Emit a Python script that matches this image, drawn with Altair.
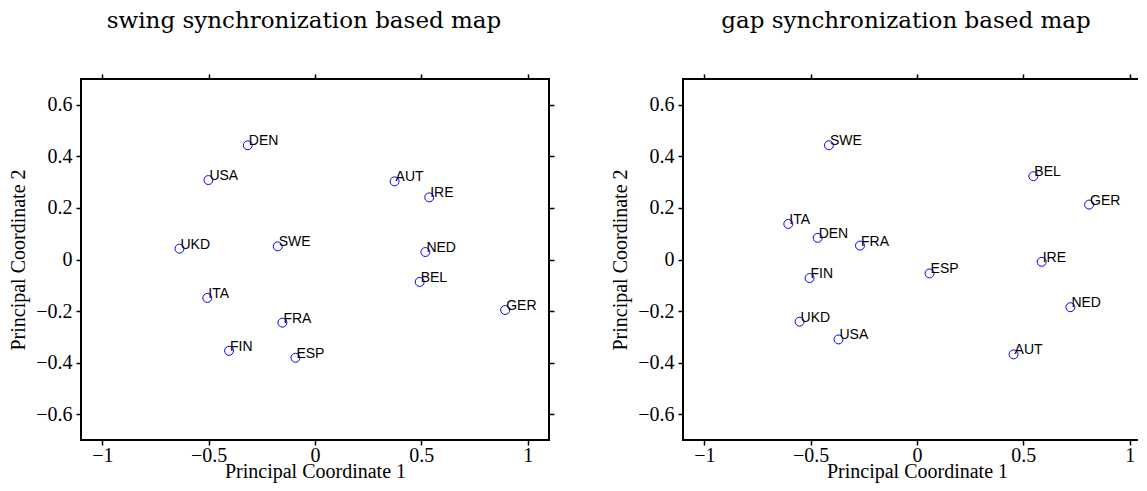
import altair as alt
import pandas as pd

countries = ["AUT", "BEL", "DEN", "ESP", "FIN", "FRA", "GER", "IRE", "ITA", "NED", "SWE", "UKD", "USA"]

swing_x = [0.374, 0.492, -0.316, -0.092, -0.404, -0.153, 0.894, 0.537, -0.506, 0.519, -0.175, -0.637, -0.501]
swing_y = [0.303, -0.087, 0.443, -0.381, -0.354, -0.245, -0.196, 0.241, -0.149, 0.029, 0.051, 0.042, 0.308]

gap_x = [0.454, 0.547, -0.467, 0.059, -0.505, -0.268, 0.809, 0.586, -0.605, 0.721, -0.414, -0.552, -0.369]
gap_y = [-0.368, 0.323, 0.084, -0.054, -0.072, 0.054, 0.213, -0.009, 0.138, -0.185, 0.443, -0.241, -0.310]

x_ticks = [-1, -0.5, 0, 0.5, 1]
y_ticks = [-0.6, -0.4, -0.2, 0, 0.2, 0.4, 0.6]

titles = ["swing synchronization based map", "gap synchronization based map"]

SERIF = "Liberation Serif"


def panel(xs, ys, title):
    df = pd.DataFrame({"country": countries, "x": xs, "y": ys})
    xscale = alt.Scale(domain=[-1.1, 1.1], nice=False, zero=False)
    yscale = alt.Scale(domain=[-0.7, 0.7], nice=False, zero=False)
    base = alt.Chart(df)
    pts = base.mark_point(shape="circle", filled=False, size=80, color="#0000ff", strokeWidth=1, opacity=1).encode(
        x=alt.X("x:Q", scale=xscale,
                axis=alt.Axis(orient="bottom", values=x_ticks, format="~g", title="Principal Coordinate 1",
                              labelPadding=0, titlePadding=-4)),
        y=alt.Y("y:Q", scale=yscale,
                axis=alt.Axis(orient="left", values=y_ticks, format="~g", title="Principal Coordinate 2",
                              labelPadding=4, titlePadding=7)),
    )
    txt = base.mark_text(align="left", baseline="alphabetic", dx=1, font="Liberation Sans", fontSize=14,
                         color="black").encode(
        x=alt.X("x:Q", scale=xscale,
                axis=alt.Axis(orient="top", values=x_ticks, labels=False, title=None)),
        y=alt.Y("y:Q", scale=yscale,
                axis=alt.Axis(orient="right", values=y_ticks, labels=False, title=None)),
        text="country:N",
    )
    return alt.layer(pts, txt).resolve_axis(x="independent", y="independent").properties(
        width=468, height=361,
        title=alt.Title(title, font="DejaVu Serif", fontSize=23, fontWeight="normal", color="black",
                        frame="group", dx=-11, offset=40),
    )


chart = alt.hconcat(panel(swing_x, swing_y, titles[0]), panel(gap_x, gap_y, titles[1]),
                    spacing=134, bounds="flush").configure_axis(
    labelFont=SERIF, labelFontSize=20, titleFont=SERIF, titleFontSize=20, titleFontWeight="normal",
    labelColor="black", titleColor="black", tickColor="black", tickSize=5, tickWidth=1.5,
    domain=False, grid=False,
).configure_view(stroke="black", strokeWidth=2).properties(
    padding={"left": -1, "top": 1, "right": -20, "bottom": 1})

chart.save("out.html", embed_options={"renderer": "svg", "actions": False})
